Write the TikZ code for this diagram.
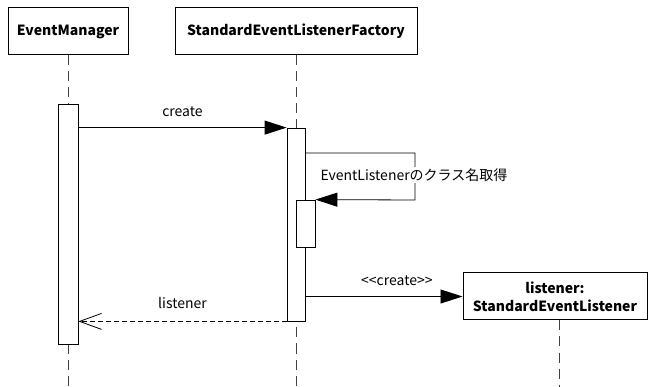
\documentclass[tikz,border=0pt]{standalone}
\usepackage{fontspec}
\setmainfont{Noto Sans CJK JP}[Ligatures=NoCommon]
\usetikzlibrary{arrows.meta,positioning}

\begin{document}
\begin{tikzpicture}[
  x=1pt, y=-1pt,
  every node/.style={font=\fontsize{14}{17}\selectfont, inner sep=0pt},
  obj/.style={draw, line width=1pt, fill=white, align=center, font=\fontsize{14}{18}\selectfont\bfseries},
  act/.style={draw, line width=0.8pt, fill=white, minimum width=19},
  life/.style={draw=black!75, line width=0.8pt, dash pattern=on 10pt off 6pt},
  call/.style={-{Triangle[length=22pt,width=14pt]}, line width=0.8pt},
  ret/.style={-{Straight Barb[length=22pt,width=16pt]}, line width=0.8pt, dash pattern=on 5pt off 3pt}
]
\useasboundingbox (0,0) rectangle (648,387);
% lifeline heads
\node[obj, minimum width=120, minimum height=47] (em) at (68,31.5) {EventManager};
\node[obj, minimum width=242, minimum height=47] (fac) at (296,31.5) {StandardEventListenerFactory};
\coordinate (emend) at (68,387);
\coordinate (facend) at (296,387);
\coordinate (lisend) at (559,387);
% lifelines
\draw[life] (em) -- (emend);
\draw[life] (fac) -- (facend);
% activations
\node[act, minimum width=20, minimum height=240] (emact) at (68,224) {};
\node[act, minimum width=18, minimum height=193] (facact) at (296,224.5) {};
\node[act, minimum width=19, minimum height=47] (selfact) at (305.5,223.5) {};
% created object
\node[obj, minimum width=184, minimum height=47] (lis) at (555,296.5) {listener:\\StandardEventListener};
\draw[life] (lis.south -| lisend) -- (lisend);
% messages
\draw[call] (emact.east |- facact.north) -- node[above=11pt] {create} (facact.north west);
\draw[call] (facact.east |- 0,153) -- (415,153) -- (415,200) -- (selfact.north east);
\node[fill=white, inner ysep=2pt] (selflbl) at (414,175) {EventListenerのクラス名取得};
\draw[call] (facact.east |- lis.west) -- node[above=10pt, xshift=13pt] {{<}{<}create{>}{>}} (lis.west);
\draw[ret] (facact.south west) -- node[above=12pt] {listener} (emact.east |- facact.south);
\end{tikzpicture}
\end{document}
